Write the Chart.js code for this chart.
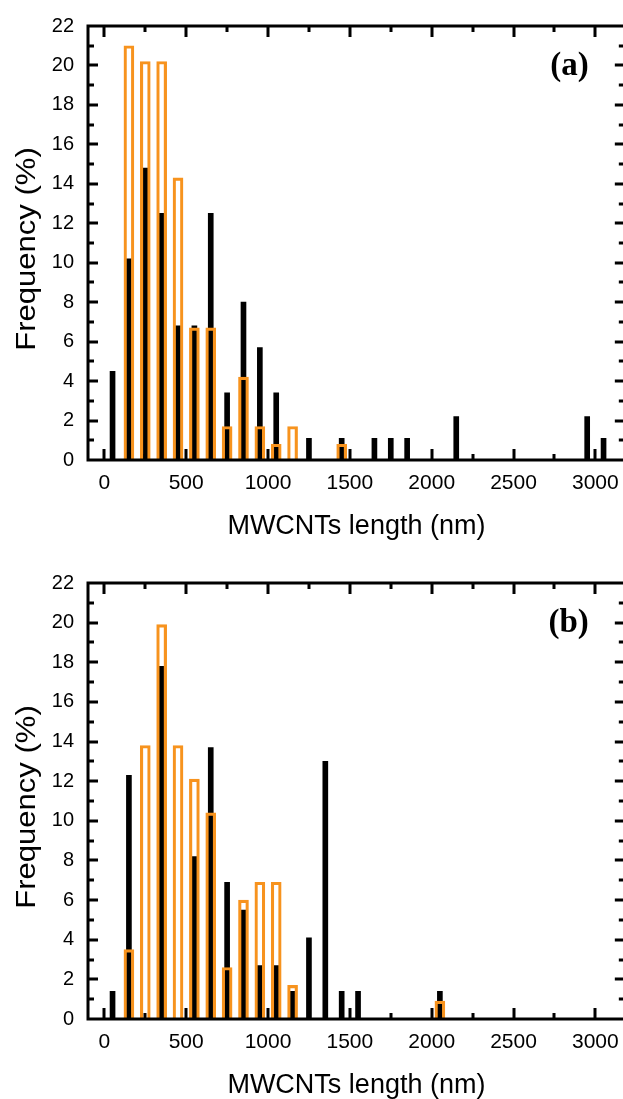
<!DOCTYPE html>
<html><head><meta charset="utf-8">
<script src="https://cdn.jsdelivr.net/npm/chart.js@4.4.1/dist/chart.umd.min.js"></script>
<style>
html,body{margin:0;padding:0;background:#fff;overflow:hidden;width:623px;height:1099px;position:relative;}
#wa{position:absolute;left:0;top:0;width:630px;height:545px;}
#wb{position:absolute;left:0;top:557px;width:630px;height:542px;}
</style></head><body>
<div id="wa"><canvas id="ca"></canvas></div>
<div id="wb"><canvas id="cb"></canvas></div>
<script>
// x tick labels (nm) and y tick range (%)
const xTickValues = [0, 500, 1000, 1500, 2000, 2500, 3000];
const yTickValues = [0, 2, 4, 6, 8, 10, 12, 14, 16, 18, 20, 22];

// Panel (a)
const aBlackX = [50, 150, 250, 350, 450, 550, 650, 750, 850, 950, 1050, 1250, 1450, 1650, 1750, 1850, 2150, 2950, 3050];
const aBlackY = [4.5, 10.2, 14.8, 12.5, 6.8, 6.8, 12.5, 3.4, 8.0, 5.7, 3.4, 1.1, 1.1, 1.1, 1.1, 1.1, 2.2, 2.2, 1.1];
const aOrangeX = [150, 250, 350, 450, 550, 650, 750, 850, 950, 1050, 1150, 1450];
const aOrangeY = [21.0, 20.2, 20.2, 14.3, 6.7, 6.7, 1.7, 4.2, 1.7, 0.8, 1.7, 0.8];

// Panel (b)
const bBlackX = [50, 150, 350, 550, 650, 750, 850, 950, 1050, 1150, 1250, 1350, 1450, 1550, 2050];
const bBlackY = [1.4, 12.3, 17.8, 8.2, 13.7, 6.9, 5.5, 2.7, 2.7, 1.4, 4.1, 13.0, 1.4, 1.4, 1.4];
const bOrangeX = [150, 250, 350, 450, 550, 650, 750, 850, 950, 1050, 1150, 2050];
const bOrangeY = [3.5, 13.8, 19.9, 13.8, 12.1, 10.4, 2.6, 6.0, 6.9, 6.9, 1.7, 0.9];

const xTitle = 'MWCNTs length (nm)';
const yTitle = 'Frequency (%)';
const ORANGE = '#F7931E';

function framePlugin(tag) {
  return {
    id: 'frame' + tag,
    afterDatasetsDraw(chart) {
      const ctx = chart.ctx, a = chart.chartArea, xs = chart.scales.x, ys = chart.scales.y;
      ctx.save();
      ctx.strokeStyle = '#000';
      ctx.lineWidth = 3;
      ctx.lineCap = 'butt';
      for (let v = 0; v <= 3000; v += 250) {
        const px = Math.round(xs.getPixelForValue(v));
        const len = (v % 500 === 0) ? 11 : 6;
        ctx.beginPath();
        ctx.moveTo(px, a.bottom); ctx.lineTo(px, a.bottom - len);
        ctx.moveTo(px, a.top); ctx.lineTo(px, a.top + len);
        ctx.stroke();
      }
      for (let v = 1; v < 22; v += 1) {
        const py = Math.round(ys.getPixelForValue(v));
        const len = (v % 2 === 0) ? 10 : 6;
        ctx.beginPath();
        ctx.moveTo(a.left, py); ctx.lineTo(a.left + len, py);
        ctx.moveTo(a.right, py); ctx.lineTo(a.right - len, py);
        ctx.stroke();
      }
      ctx.strokeRect(a.left, a.top, a.right - a.left, a.bottom - a.top);
      ctx.fillStyle = '#000';
      ctx.font = 'bold 33px "Liberation Serif", "Times New Roman", serif';
      ctx.textAlign = 'right';
      ctx.textBaseline = 'middle';
      ctx.fillText(tag, a.right - 36, a.top + 40);
      ctx.font = '27px "Liberation Sans", Arial, sans-serif';
      ctx.textAlign = 'center';
      ctx.textBaseline = 'alphabetic';
      ctx.fillText(xTitle, (a.left + a.right) / 2, a.bottom + 74);
      ctx.save();
      ctx.translate(35, (a.top + a.bottom) / 2 + 6);
      ctx.rotate(-Math.PI / 2);
      ctx.scale(1.15, 1);
      ctx.fillText(yTitle, 0, 0);
      ctx.restore();
      ctx.restore();
    }
  };
}

function makeChart(id, bx, by, ox, oy, tag, axisH) {
  return new Chart(document.getElementById(id), {
    type: 'bar',
    data: {
      datasets: [
        {
          label: 'orange',
          data: ox.map((x, i) => ({ x: x, y: oy[i] })),
          backgroundColor: 'rgba(0,0,0,0)',
          borderColor: ORANGE,
          borderWidth: 2.5,
          borderSkipped: 'start',
          barThickness: 10,
          grouped: false,
          order: 0
        },
        {
          label: 'black',
          data: bx.map((x, i) => ({ x: x, y: by[i] })),
          backgroundColor: '#000',
          borderWidth: 0,
          barThickness: 5,
          grouped: false,
          order: 1
        }
      ]
    },
    options: {
      responsive: true,
      maintainAspectRatio: false,
      animation: false,
      devicePixelRatio: 1,
      layout: { padding: { top: 13, right: 5, left: 0, bottom: 0 } },
      plugins: { legend: { display: false }, tooltip: { enabled: false } },
      scales: {
        x: {
          type: 'linear',
          offset: false,
          min: -100,
          max: 3180,
          grid: { display: false, drawTicks: false, offset: false },
          border: { display: false },
          ticks: {
            color: '#000',
            font: { family: '"Liberation Sans", Arial, sans-serif', size: 21 },
            padding: 11,
            maxRotation: 0,
            autoSkip: false,
            callback: v => String(v)
          },
          afterBuildTicks: s => { s.ticks = xTickValues.map(v => ({ value: v })); },
          afterFit: s => { s.height = axisH; }
        },
        y: {
          min: 0,
          max: 22,
          grid: { display: false, drawTicks: false },
          border: { display: false },
          ticks: {
            color: '#000',
            font: { family: '"Liberation Sans", Arial, sans-serif', size: 20 },
            padding: 14,
            callback: v => String(v)
          },
          afterBuildTicks: s => { s.ticks = yTickValues.map(v => ({ value: v })); },
          afterFit: s => { s.width = 88; }
        }
      }
    },
    plugins: [framePlugin(tag)]
  });
}

makeChart('ca', aBlackX, aBlackY, aOrangeX, aOrangeY, '(a)', 85);
makeChart('cb', bBlackX, bBlackY, bOrangeX, bOrangeY, '(b)', 80);
</script>
</body></html>
